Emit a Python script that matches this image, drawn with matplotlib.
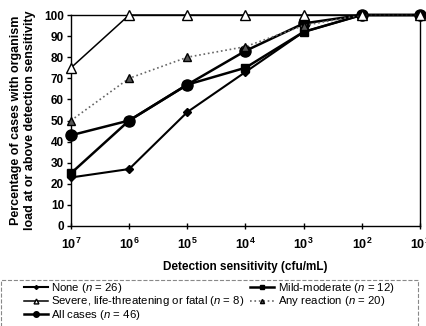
import matplotlib
matplotlib.use("Agg")
import matplotlib.pyplot as plt
from matplotlib.patches import Rectangle
import numpy as np

plt.rcParams['font.family'] = ['Liberation Sans', 'DejaVu Sans']
plt.rcParams['mathtext.fontset'] = 'custom'
plt.rcParams['mathtext.rm'] = 'Liberation Sans'
plt.rcParams['mathtext.it'] = 'Liberation Sans:italic'
plt.rcParams['mathtext.bf'] = 'Liberation Sans:bold'

sensitivity = [1e7, 1e6, 1e5, 1e4, 1e3, 1e2, 1e1]
none_vals = [23, 27, 54, 73, 92, 100, 100]
mild_vals = [25, 50, 67, 75, 92, 100, 100]
severe_vals = [75, 100, 100, 100, 100, 100, 100]
any_vals = [50, 70, 80, 85, 95, 100, 100]
all_vals = [43, 50, 67, 83, 96, 100, 100]
xtick_labels = [r'$\mathbf{10^{7}}$', r'$\mathbf{10^{6}}$', r'$\mathbf{10^{5}}$',
                r'$\mathbf{10^{4}}$', r'$\mathbf{10^{3}}$', r'$\mathbf{10^{2}}$',
                r'$\mathbf{10^{1}}$']

fig = plt.figure(figsize=(4.26, 3.26), dpi=100)
ax = fig.add_axes([71/426, 1-226/326, 349/426, 211/326])

ax.plot(sensitivity, none_vals, '-', color='black', lw=1.5, marker='D', ms=4,
        label='None ($\\it{n}$ = 26)', clip_on=False, zorder=3)
ax.plot(sensitivity, severe_vals, '-', color='black', lw=1.1, marker='^', ms=7,
        mfc='white', mec='black', label='Severe, life-threatening or fatal ($\\it{n}$ = 8)',
        clip_on=False, zorder=4)
ax.plot(sensitivity, all_vals, '-', color='black', lw=1.8, marker='o', ms=8,
        label='All cases ($\\it{n}$ = 46)', clip_on=False, zorder=3)
ax.plot(sensitivity, mild_vals, '-', color='black', lw=1.8, marker='s', ms=6,
        label='Mild-moderate ($\\it{n}$ = 12)', clip_on=False, zorder=3)
ax.plot(sensitivity, any_vals, ':', color='#666666', lw=1.2, marker='^', ms=6,
        mfc='#555555', mec='black', label='Any reaction ($\\it{n}$ = 20)',
        clip_on=False, zorder=3)

ax.set_xscale('log')
ax.set_xlim(1e7, 1e1)
ax.set_ylim(0, 100)
ax.set_xticks(sensitivity)
ax.set_xticklabels(xtick_labels, fontsize=9)
ax.minorticks_off()
ax.set_yticks(np.arange(0, 101, 10))
ax.set_yticklabels([str(v) for v in range(0, 101, 10)], fontsize=8.5, fontweight='bold')
ax.tick_params(axis='y', direction='out', length=3, width=1, pad=2)
ax.tick_params(axis='x', direction='inout', length=5, width=1, pad=5)
for s in ax.spines.values():
    s.set_linewidth(1.0)

ax.set_xlabel('Detection sensitivity (cfu/mL)', fontsize=8.5, fontweight='bold', labelpad=7)
ax.set_ylabel('Percentage of cases with organism\nload at or above detection sensitivity',
              fontsize=9, fontweight='bold', labelpad=6, linespacing=1.15)

leg = fig.legend(loc='upper left', bbox_to_anchor=(24/426, 1-281/326), ncol=2,
                 fontsize=8.2, frameon=False, handlelength=2.1, handleheight=0.5,
                 handletextpad=0.3, columnspacing=0.5, labelspacing=-0.05,
                 borderpad=0.0, borderaxespad=0, markerscale=0.5)

fig.patches.append(Rectangle((1/426, -0.05), 417/426, 1-280/326 + 0.05,
                             transform=fig.transFigure, fill=False,
                             edgecolor='#888888', linestyle='--', linewidth=0.8))

fig.savefig('out.png', dpi=100)
